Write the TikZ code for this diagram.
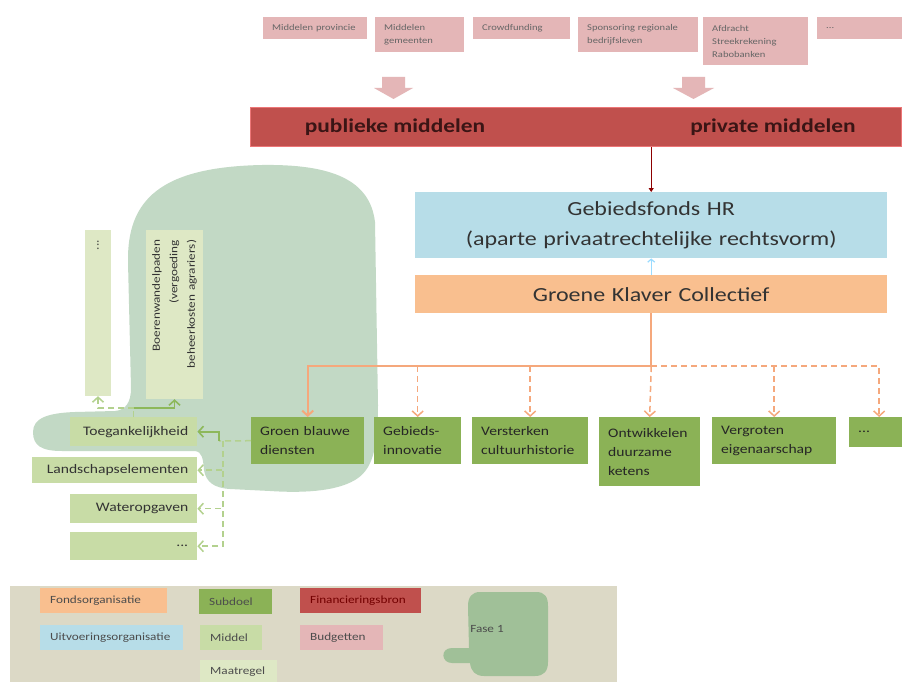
\documentclass[tikz,border=0pt]{standalone}
\usepackage{fontspec}
\setmainfont{Carlito}[FakeStretch=1.2]
\usetikzlibrary{arrows.meta}
\definecolor{pinkc}{HTML}{E4B6B7}
\definecolor{redc}{HTML}{C0504D}
\definecolor{bluec}{HTML}{B7DDE8}
\definecolor{orangec}{HTML}{F9BF8F}
\definecolor{subc}{HTML}{8BB256}
\definecolor{midc}{HTML}{C8DCA6}
\definecolor{maatc}{HTML}{DEE8C5}
\definecolor{blobc}{HTML}{C2D9C5}
\definecolor{blobtwo}{HTML}{A0C098}
\definecolor{legbg}{HTML}{DCD9C6}
\definecolor{orlinec}{HTML}{F5A87C}
\definecolor{grlinec}{HTML}{8DB85A}
\definecolor{lglinec}{HTML}{B3D18E}
\definecolor{txt}{HTML}{333333}
\definecolor{bartxt}{HTML}{3A1515}
\tikzset{
  base/.style={draw=none, inner ysep=0pt, anchor=north west, text=txt},
  pinkbox/.style={base, fill=pinkc, inner xsep=9pt, align=left, text=black!60, font=\fontsize{8.8}{13}\selectfont},
  subbox/.style={base, fill=subc, inner xsep=9pt, align=left, font=\fontsize{13}{19}\selectfont, text=black!85},
  midbox/.style={base, fill=midc, inner xsep=9pt, align=right, font=\fontsize{13}{16}\selectfont},
  maatbox/.style={fill=maatc, draw=none, inner xsep=10pt, inner ysep=0pt, rotate=90, align=right, font=\fontsize{11}{17.5}\selectfont, text=txt},
  legbox/.style={base, inner xsep=10pt, align=left, font=\fontsize{11}{13}\selectfont, text=black!70},
  bigbox/.style={base, inner xsep=0pt, align=center, font=\fontsize{20}{30}\selectfont, text=txt},
  bartext/.style={font=\bfseries\fontsize{19.5}{22}\selectfont, text=bartxt, inner sep=0pt},
  barb/.style={-{Straight Barb[length=5pt,width=11pt]}},
  orsolid/.style={draw=orlinec, line width=2pt, barb},
  ordash/.style={draw=orlinec, line width=1.5pt, dash pattern=on 6pt off 4pt, barb},
  grsolid/.style={draw=grlinec, line width=1.6pt},
  lgdash/.style={draw=lglinec, line width=1.5pt, dash pattern=on 6pt off 4pt},
}
\begin{document}
\begin{tikzpicture}[x=1pt,y=-1pt]
\useasboundingbox (0,0) rectangle (902,682);
\fill[white] (0,0) rectangle (902,682);

% Fase 1 region
\fill[blobc] (33,432) .. controls (33,418) and (48,413) .. (75,412)
  -- (115,411) .. controls (126,410) and (131,402) .. (131,388)
  -- (128,262) .. controls (127,200) and (160,167) .. (262,165)
  .. controls (332,164) and (370,180) .. (375,222)
  -- (378,405) .. controls (378,450) and (372,470) .. (355,480)
  .. controls (335,492) and (300,493) .. (270,491)
  -- (230,489) .. controls (214,488) and (206,482) .. (204,470)
  .. controls (203,458) and (202,452) .. (195,451)
  -- (62,451) .. controls (42,451) and (33,446) .. (33,432) -- cycle;

% top budget boxes
\node[pinkbox, text width=86pt, minimum width=104pt, minimum height=22pt] (p1) at (263,17) {Middelen provincie};
\node[pinkbox, text width=71pt, minimum width=89pt, minimum height=35pt] (p2) at (375,17) {Middelen\\gemeenten};
\node[pinkbox, text width=79pt, minimum width=97pt, minimum height=22pt] (p3) at (473,17) {Crowdfunding};
\node[pinkbox, text width=102pt, minimum width=120pt, minimum height=35pt] (p4) at (578,17) {Sponsoring regionale\\bedrijfsleven};
\node[pinkbox, text width=87pt, minimum width=105pt, minimum height=48pt] (p5) at (703,17) {Afdracht\\Streekrekening\\Rabobanken};
\node[pinkbox, text width=67pt, minimum width=85pt, minimum height=22pt] (p6) at (817,17) {...};

% fat arrows
\fill[pinkc] (382,77) -- (405,77) -- (405,88) -- (413,88) -- (393.5,99) -- (374,88) -- (382,88) -- cycle;
\fill[pinkc] (682,77) -- (705,77) -- (705,88) -- (714,88) -- (693.5,99) -- (673,88) -- (682,88) -- cycle;

% financing bar
\node[base, fill=redc, draw=red!35!pinkc, line width=0.8pt, minimum width=651pt, minimum height=39pt, inner sep=0pt] (bar) at (250,107) {};
\node[bartext] (pub) at (395,127) {publieke middelen};
\node[bartext] (priv) at (773,127) {private middelen};

% fund and collective
\node[bigbox, fill=bluec, text width=472pt, minimum height=66pt] (gf) at (415,192) {Gebiedsfonds HR\\(aparte privaatrechtelijke rechtsvorm)};
\node[bigbox, fill=orangec, text width=472pt, minimum height=38pt] (gkc) at (415,275) {Groene Klaver Collectief};

\draw[draw=red!55!black, line width=1.4pt, -{Triangle[length=4pt,width=5pt]}] (bar.south -| gf.north) -- (gf.north);
\draw[draw=blue!35!cyan!40!white, line width=1.2pt, -{Straight Barb[length=3pt,width=7pt]}] (gkc.north) -- (gf.south);

% sub goals
\node[subbox, text width=95pt, minimum width=113pt, minimum height=47pt] (gbd) at (251,417) {Groen blauwe\\diensten};
\node[subbox, text width=69pt, minimum width=87pt, minimum height=47pt] (gi) at (374,417) {Gebieds-\\innovatie};
\node[subbox, text width=98pt, minimum width=116pt, minimum height=47pt] (vc) at (472,417) {Versterken\\cultuurhistorie};
\node[subbox, text width=83pt, minimum width=101pt, minimum height=69pt] (odk) at (599,417) {Ontwikkelen\\duurzame\\ketens};
\node[subbox, text width=106pt, minimum width=124pt, minimum height=47pt] (ve) at (712,417) {Vergroten\\eigenaarschap};
\node[subbox, text width=42pt, minimum width=60pt, minimum height=30pt] (sdots) at (849,417) {...};

% orange connectors
\coordinate (bus) at (0,366);
\draw[orsolid] (gkc.south) -- (gkc.south |- bus) -| (gbd.north);
\draw[ordash] (gkc.south |- bus) -- (odk.north);
\draw[ordash] (gkc.south |- bus) -| (sdots.north);
\draw[ordash] (gi.north |- bus) -- (gi.north);
\draw[ordash] (vc.north |- bus) -- (vc.north);
\draw[ordash] (ve.north |- bus) -- (ve.north);

% means
\node[midbox, text width=109pt, minimum width=127pt, minimum height=29pt] (toeg) at (70,417) {Toegankelijkheid};
\node[midbox, text width=147pt, minimum width=165pt, minimum height=26pt] (land) at (32,457) {Landschapselementen};
\node[midbox, text width=109pt, minimum width=127pt, minimum height=29pt] (water) at (70,494) {Wateropgaven};
\node[midbox, text width=109pt, minimum width=127pt, minimum height=28pt] (mdots) at (70,532) {...};

% measures (vertical text)
\node[maatbox, text width=146pt, minimum width=166pt, minimum height=26pt] (mt1) at (98,313) {...};
\node[maatbox, text width=149pt, minimum width=169pt, minimum height=57pt] (boer) at (174.5,314.5) {Boerenwandelpaden\\(vergoeding\\beheerkosten agrariers)};

% green connectors
\coordinate (gk) at (219,441);
\coordinate (vk) at (223,441);
\draw[lgdash] (gbd.west) -- (gk);
\draw[grsolid, barb] (gk) |- (toeg.east);
\draw[lgdash, barb] (vk) |- (land.east);
\draw[lgdash, barb] (vk) |- (water.east);
\draw[lgdash, barb] (vk) |- (mdots.east);
\coordinate (tk) at (toeg.north |- 0,408);
\draw[lgdash] (toeg.north) -- (tk);
\draw[lgdash, barb] (tk) -| (mt1.west);
\draw[grsolid, barb] (tk) -| (boer.west);

% legend
\node[base, fill=legbg, minimum width=607pt, minimum height=96pt, inner sep=0pt] (legend) at (10,586) {};
\node[legbox, fill=orangec, text width=107pt, minimum width=127pt, minimum height=25pt] (l1) at (40,588) {Fondsorganisatie};
\node[legbox, fill=bluec, text width=123pt, minimum width=143pt, minimum height=25pt] (l2) at (40,625) {Uitvoeringsorganisatie};
\node[legbox, fill=subc, text width=53pt, minimum width=73pt, minimum height=25pt] (l3) at (199,589) {Subdoel};
\node[legbox, fill=midc, text width=42pt, minimum width=62pt, minimum height=25pt] (l4) at (200,625) {Middel};
\node[legbox, fill=maatc, text width=57pt, minimum width=77pt, minimum height=22pt] (l5) at (200,660) {Maatregel};
\node[legbox, fill=redc, text=red!45!black, text width=101pt, minimum width=121pt, minimum height=25pt] (l6) at (300,588) {Financieringsbron};
\node[legbox, fill=pinkc, text width=63pt, minimum width=83pt, minimum height=25pt] (l7) at (300,625) {Budgetten};
\fill[blobtwo] (480,592) -- (536,592) .. controls (545,592) and (548,597) .. (548,606)
  -- (548,662) .. controls (548,671) and (544,676) .. (535,676)
  -- (484,676) .. controls (475,676) and (471,671) .. (470,663)
  -- (452,663) .. controls (441,663) and (440,648) .. (452,648)
  -- (469,648) -- (468,606) .. controls (468,597) and (472,592) .. (480,592) -- cycle;
\node[font=\fontsize{11}{13}\selectfont, text=black!70, inner sep=0pt] (fase) at (487,629) {Fase 1};
\end{tikzpicture}
\end{document}
